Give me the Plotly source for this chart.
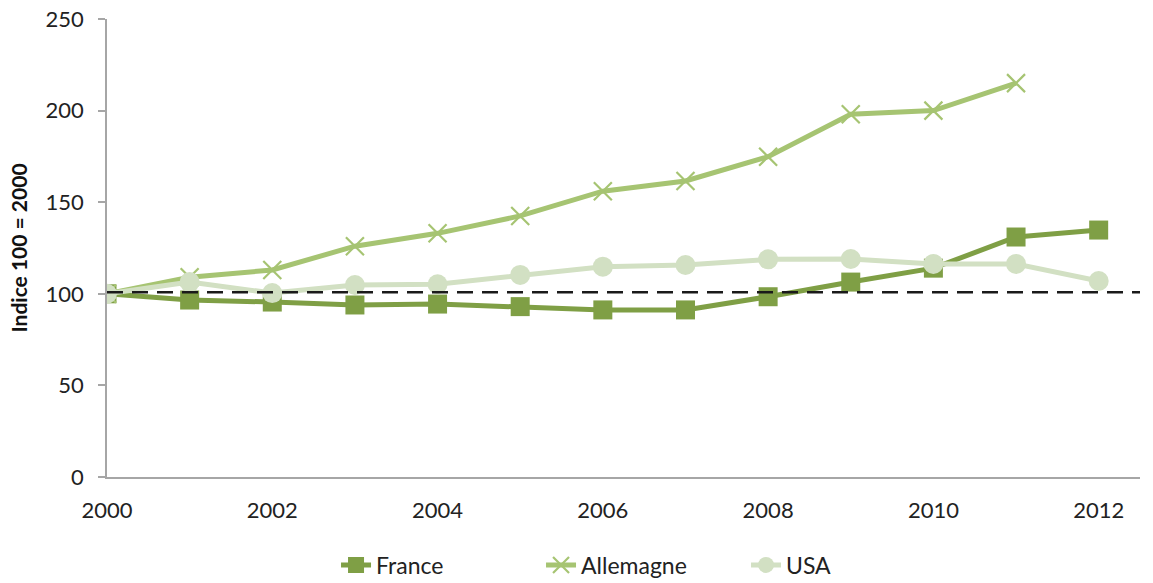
import plotly.graph_objects as go

# ----------------------------
# data
# ----------------------------
years = [2000, 2001, 2002, 2003, 2004, 2005, 2006, 2007, 2008, 2009, 2010, 2011, 2012]

france = [100, 96.6, 95.5, 93.9, 94.4, 93.0, 91.2, 91.2, 98.4, 106.4, 114, 131, 134.8]
allemagne = [100, 109, 113, 126, 133, 142.5, 156, 161.6, 174.8, 198, 200, 215, None]
usa = [100, 106.4, 100.4, 104.8, 105.2, 110.3, 114.8, 115.7, 118.8, 119, 116.3, 116.3, 107]

ref_level = 100.8
x_ticks = [2000, 2002, 2004, 2006, 2008, 2010, 2012]

font_family = "Lato, 'Open Sans', sans-serif"
axis_grey = "#a6a6a6"

fig = go.Figure()

fig.add_trace(go.Scatter(
    x=years, y=france, name="France", mode="lines+markers",
    line=dict(color="#7f9f45", width=5),
    marker=dict(symbol="square", size=19, color="#7f9f45"),
))
fig.add_trace(go.Scatter(
    x=years, y=allemagne, name="Allemagne", mode="lines+markers",
    line=dict(color="#a6c472", width=5),
    marker=dict(symbol="x-thin", size=18, line=dict(color="#a6c472", width=2.2)),
))
fig.add_trace(go.Scatter(
    x=years, y=usa, name="USA", mode="lines+markers",
    line=dict(color="#d2e0c3", width=5),
    marker=dict(symbol="circle", size=20, color="#d2e0c3"),
))

# dashed reference line
fig.add_shape(
    type="line", xref="x", yref="y", layer="above",
    x0=2000, x1=2012.5, y0=ref_level, y1=ref_level,
    line=dict(color="#1a1a1a", width=2.5, dash="16px,9px"),
)

# y axis title placed by hand so the plot area stays fixed
fig.add_annotation(
    text="<b>Indice 100 = 2000</b>", xref="paper", yref="paper",
    x=0, y=0.5, xshift=-104, textangle=-90, showarrow=False,
    font=dict(size=21, color="#111"),
)

fig.update_xaxes(
    range=[2000, 2012.5], tickvals=x_ticks,
    showline=True, linecolor=axis_grey, linewidth=1.5, showgrid=False,
    zeroline=False, ticks="outside", ticklen=13, tickcolor="rgba(0,0,0,0)",
    tickfont=dict(size=22, color="#222"), automargin=False,
)
fig.update_yaxes(
    range=[0, 250], dtick=50, showline=True, linecolor=axis_grey, linewidth=1.5,
    showgrid=False, zeroline=False, ticks="outside", ticklen=7, tickcolor=axis_grey,
    tickwidth=1.5, ticklabelstandoff=10, tickfont=dict(size=22, color="#222"),
    ticklabeloverflow="allow", automargin=False,
)

# the page body adds an 8px offset, margins compensate for it
fig.update_layout(
    width=1153, height=583,
    font=dict(family=font_family),
    plot_bgcolor="white", paper_bgcolor="white",
    margin=dict(l=99, r=21, t=11, b=114),
    showlegend=True,
    legend=dict(
        orientation="h", xref="container", yref="container",
        x=0.2845, xanchor="left", y=0.0446, yanchor="middle",
        font=dict(size=23, color="#222"), entrywidth=160,
    ),
)

fig.write_html("out.html")
